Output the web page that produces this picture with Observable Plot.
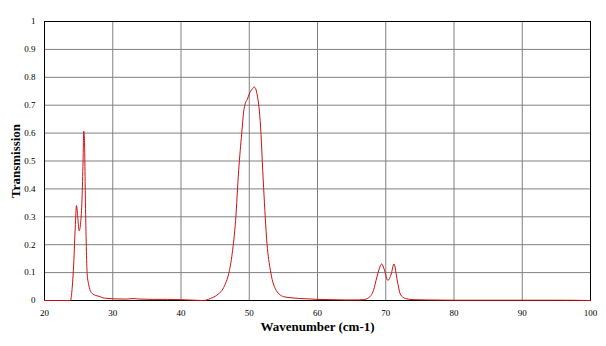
<!DOCTYPE html>
<html>
<head>
<meta charset="utf-8">
<script src="https://cdn.jsdelivr.net/npm/d3@7"></script>
<script src="https://cdn.jsdelivr.net/npm/@observablehq/plot@0.6"></script>
<style>
  html, body { margin: 0; padding: 0; background: #fff; }
  svg, svg text { font-family: "Liberation Serif", "Times New Roman", serif !important; }
  [aria-label="y-axis label"] text, [aria-label="x-axis label"] text,
  [aria-label="y-axis label"], [aria-label="x-axis label"] { font-weight: bold; font-size: 13px; }
</style>
</head>
<body>
<div id="chart"></div>
<script>
const wavenumber = [20,21,22,23,23.8,24.0,24.3,24.5,24.69,24.9,25.08,25.3,25.5,25.65,25.75,25.85,26.0,26.25,26.45,26.7,27.0,27.5,28.0,28.5,29,30,32,33,34,36,38,40,42,43.3,44.3,45,45.5,46.0,46.5,47.0,47.5,48.0,48.45,48.9,49.2,49.4,49.7,50.0,50.4,50.75,51.14,51.6,52.1,52.6,53.1,53.8,55,56,58.5,60,62,64,66,66.7,67.5,68.2,68.7,69.0,69.4,69.8,70.3,70.8,71.2,71.7,72.1,72.5,72.9,74,76,80,85,90,95,100];
const transmission = [0,0,0,0,0,0.03,0.143,0.26,0.34,0.29,0.25,0.28,0.365,0.5,0.607,0.58,0.35,0.097,0.06,0.036,0.025,0.018,0.015,0.01,0.008,0.006,0.005,0.007,0.005,0.004,0.004,0.003,0.001,0,0.007,0.015,0.024,0.036,0.06,0.097,0.168,0.287,0.466,0.6,0.68,0.705,0.72,0.74,0.757,0.765,0.74,0.645,0.406,0.204,0.108,0.043,0.014,0.01,0.006,0.004,0.003,0.002,0.002,0.003,0.01,0.036,0.084,0.11,0.131,0.11,0.072,0.095,0.131,0.07,0.025,0.012,0.007,0.003,0.002,0.001,0.001,0.001,0.001,0];
const xTicks = [20,30,40,50,60,70,80,90,100];
const yTicks = [0,0.1,0.2,0.3,0.4,0.5,0.6,0.7,0.8,0.9,1];

const data = wavenumber.map((w, i) => ({w, t: transmission[i]}));

const chart = Plot.plot({
  width: 606,
  height: 346,
  marginLeft: 44,
  marginRight: 16,
  marginTop: 21,
  marginBottom: 46,
  style: {fontFamily: "'Liberation Serif', serif", fontSize: "9px", background: "#fff", color: "#000"},
  x: {domain: [20, 100]},
  y: {domain: [0, 1]},
  marks: [
    Plot.gridX(xTicks, {stroke: "#808080", strokeOpacity: 1}),
    Plot.gridY(yTicks, {stroke: "#808080", strokeOpacity: 1}),
    Plot.frame({stroke: "#000"}),
    Plot.axisX(xTicks, {tickSize: 0, tickPadding: 9, tickFormat: d => String(d), label: "Wavenumber (cm-1)", labelAnchor: "center", labelArrow: "none", labelOffset: 30}),
    Plot.axisY(yTicks, {tickSize: 0, tickPadding: 9, tickFormat: d => String(d), label: "Transmission", labelAnchor: "center", labelArrow: "none", labelOffset: 34}),
    Plot.line(data, {x: "w", y: "t", stroke: "#cc1111", strokeWidth: 1, curve: "monotone-x"})
  ]
});
document.getElementById("chart").appendChild(chart);
</script>
</body>
</html>
